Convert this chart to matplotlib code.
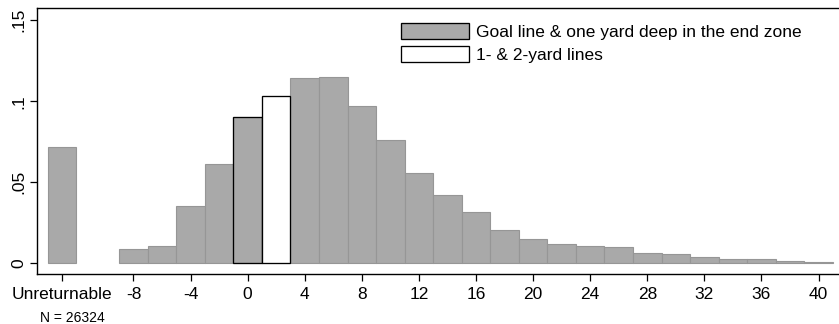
import matplotlib
matplotlib.use("Agg")
import matplotlib.pyplot as plt
from matplotlib.ticker import FixedLocator

plt.rcParams['font.family'] = ['Liberation Sans', 'DejaVu Sans']

# Data
bin_left = list(range(-9, 41, 2))            # histogram bins of width 2, from -9 to 41
fractions = [0.0088, 0.0107, 0.0352, 0.0613, 0.0901, 0.1031, 0.1146, 0.1150,
             0.0971, 0.0759, 0.0556, 0.0424, 0.0315, 0.0206, 0.0148, 0.0119,
             0.0105, 0.0099, 0.0064, 0.0059, 0.0037, 0.0025, 0.0027, 0.0014,
             0.0008]
unreturnable_pos = -13
unreturnable_frac = 0.0716
goal_line_bin = -1     # bin drawn with black edge (goal line & one yard deep)
yard12_bin = 1         # white bin (1- & 2-yard lines)
xtick_values = [unreturnable_pos, -8, -4, 0, 4, 8, 12, 16, 20, 24, 28, 32, 36, 40]
xtick_labels = ["Unreturnable", "-8", "-4", "0", "4", "8", "12", "16", "20",
                "24", "28", "32", "36", "40"]
ytick_values = [0, 0.05, 0.10, 0.15]
ytick_labels = ["0", ".05", ".1", ".15"]
legend_labels = ["Goal line & one yard deep in the end zone", "1- & 2-yard lines"]
n_text = "N = 26324"

GRAY = "#a9a9a9"
GRAY_EDGE = "#969696"

fig = plt.figure(figsize=(8.39, 3.24), dpi=100)
ax = fig.add_axes([37/839, 1 - 274.3/324, 1 - 37/839 + 0.002, (274.3 - 8)/324])

# unreturnable bar
ax.bar([unreturnable_pos], [unreturnable_frac], width=2, color=GRAY,
       edgecolor=GRAY_EDGE, linewidth=0.8, zorder=2)

# ordinary bins
other_left = [b for b in bin_left if b not in (goal_line_bin, yard12_bin)]
other_h = [f for b, f in zip(bin_left, fractions) if b not in (goal_line_bin, yard12_bin)]
ax.bar(other_left, other_h, width=2, align='edge', color=GRAY,
       edgecolor=GRAY_EDGE, linewidth=0.8, zorder=2)

# highlighted bins
h1 = ax.bar([goal_line_bin], [fractions[bin_left.index(goal_line_bin)]], width=2,
            align='edge', color=GRAY, edgecolor='black', linewidth=0.95, zorder=3,
            label=legend_labels[0])
h2 = ax.bar([yard12_bin], [fractions[bin_left.index(yard12_bin)]], width=2,
            align='edge', color='white', edgecolor='black', linewidth=0.95, zorder=3,
            label=legend_labels[1])

ax.set_xlim(-14.76, 41.55)
ax.set_ylim(-0.0068, 0.1576)

ax.xaxis.set_major_locator(FixedLocator(xtick_values))
ax.set_xticklabels(xtick_labels)
ax.yaxis.set_major_locator(FixedLocator(ytick_values))
ax.set_yticklabels(ytick_labels, rotation=90, va='center')

ax.tick_params(axis='both', direction='out', length=5, width=0.9, labelsize=12.5,
               color='black', pad=3)
ax.tick_params(axis='x', pad=4)
for s in ['left', 'bottom', 'top']:
    ax.spines[s].set_linewidth(1.0)
ax.spines['right'].set_visible(False)

fs = 12.5 * 100 / 72
leg = ax.legend(handles=[h1, h2], loc='upper left',
                bbox_to_anchor=((400 - 37) / 802, 1 - (22.7 - 8) / 266.3),
                frameon=False, fontsize=12.5, borderpad=0, borderaxespad=0,
                handlelength=68 / fs, handleheight=18 / fs,
                handletextpad=7 / fs, labelspacing=0.38)

fig.text(40 / 839, 1 - 318 / 324, n_text, fontsize=10, va='center', ha='left')

fig.savefig("out.png", dpi=100)
